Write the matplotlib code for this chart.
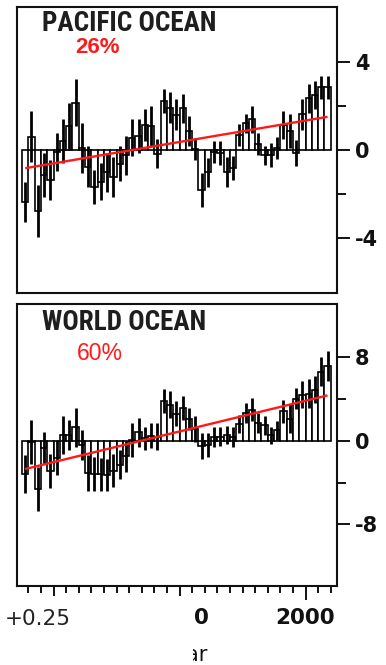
import numpy as np
import matplotlib
matplotlib.use("Agg")
import matplotlib.pyplot as plt
from matplotlib.patches import Rectangle
from matplotlib.ticker import MultipleLocator, FixedLocator
from matplotlib import font_manager

# Yearly heat-content anomalies (10^22 J), 1955-2003
years = np.arange(1955, 2004)

pacific = [-2.37, 0.60, -2.78, -1.15, -1.38, -0.10, 0.38, 1.07, 2.15, 0.08,
           -0.77, -1.69, -1.45, -1.03, -1.23, -0.64, -0.26, 0.54, 0.61, 1.12,
           1.07, -0.18, 2.22, 1.92, 1.60, 1.88, 0.84, 0.05, -1.84, -1.03,
           -0.11, -0.15, -1.00, -0.84, 0.66, 1.20, 1.38, 0.28, -0.26, -0.23,
           0.08, 1.12, 0.84, -0.15, 1.61, 2.34, 2.50, 2.84, 2.84]
pacific_err = [0.92, 1.15, 1.18, 1.00, 0.92, 0.88, 1.00, 1.07, 1.07, 1.15,
               0.92, 0.77, 0.85, 0.88, 0.92, 0.80, 0.88, 0.84, 0.77, 0.73,
               0.92, 0.65, 0.54, 0.69, 0.70, 0.65, 0.69, 0.50, 0.77, 0.65,
               0.50, 0.55, 0.69, 0.54, 0.50, 0.42, 0.61, 0.50, 0.42, 0.54,
               0.50, 0.65, 0.77, 0.61, 0.69, 0.65, 0.65, 0.54, 0.54]

world = [-3.17, -0.10, -4.63, -0.65, -2.85, -1.62, 0.58, 0.55, 1.29, -0.42,
         -3.07, -3.17, -3.20, -3.24, -2.85, -2.27, -1.50, 0.06, 0.80, 0.23,
         0.50, 0.39, 3.79, 3.46, 2.60, 3.14, 2.10, 1.13, -0.49, -0.42,
         0.39, 0.40, 0.55, 0.39, 1.62, 2.65, 2.98, 1.68, 1.50, 0.55,
         1.00, 2.82, 2.10, 4.05, 4.43, 4.53, 4.90, 6.63, 7.18]
world_err = [1.78, 2.10, 2.10, 1.54, 1.62, 1.70, 1.81, 1.46, 1.86, 1.46,
             1.70, 1.62, 1.60, 1.54, 1.60, 1.38, 1.46, 1.62, 1.38, 1.13,
             1.20, 1.30, 1.13, 1.30, 1.20, 1.13, 1.05, 1.21, 1.21, 1.13,
             0.97, 0.90, 0.90, 0.97, 0.89, 0.97, 1.13, 0.97, 0.90, 0.81,
             0.90, 1.13, 1.38, 1.05, 1.29, 1.38, 1.30, 1.38, 1.46]

# Linear trend end points (value at first and last year)
pacific_trend = [-0.84, 1.50]
world_trend = [-2.70, 4.35]

panels = [
    dict(name="PACIFIC OCEAN", pct="26%", vals=pacific, err=pacific_err,
         trend=pacific_trend, major=[-4, 0, 4], minor=[-2, 2],
         ylim=(-6.5, 6.5)),
    dict(name="WORLD OCEAN", pct="60%", vals=world, err=world_err,
         trend=world_trend, major=[-8, 0, 8], minor=[-4, 4],
         ylim=(-13.9, 13.1)),
]
xtick_years = [1960, 1980, 2000]
xtick_labels = ["", "1980", "2000"]

W, H = 386, 665
fig = plt.figure(figsize=(W / 100, H / 100), dpi=100)

def px_rect(left, top, right, bottom):
    return [left / W, 1 - bottom / H, (right - left) / W, (bottom - top) / H]

rects = [px_rect(17, 7, 337, 292.5), px_rect(17, 304, 337, 586)]
axes = []
for p, r in zip(panels, rects):
    ax = fig.add_axes(r)
    axes.append(ax)
    ax.bar(years, p["vals"], width=1.0, align="edge", facecolor="white",
           edgecolor="black", linewidth=1.2, zorder=2)
    ax.errorbar(years + 0.5, p["vals"], yerr=p["err"], fmt="none",
                ecolor="black", elinewidth=2.0, capsize=0, zorder=3)
    ax.plot([years[0] + 0.5, years[-1] + 0.5], p["trend"], color="#ff1a1a",
            lw=1.7, zorder=4, solid_capstyle="butt")
    ax.set_xlim(1954.2, 2005.0)
    ax.set_ylim(*p["ylim"])
    for s in ax.spines.values():
        s.set_linewidth(1.5)
        s.set_color("#111111")
    ax.yaxis.tick_right()
    ax.set_yticks(p["major"])
    ax.set_yticklabels([str(v) for v in p["major"]], fontweight="bold",
                       fontsize=15, family="DejaVu Sans")
    ax.yaxis.set_minor_locator(FixedLocator(p["minor"]))
    ax.tick_params(axis="y", which="major", length=9.5, width=1.4,
                   direction="out", pad=3.5, colors="#111111")
    ax.tick_params(axis="y", which="minor", length=6.5, width=1.4,
                   direction="out", colors="#111111")

axes[0].set_xticks([])
axes[0].tick_params(axis="x", which="both", bottom=False, labelbottom=False)

ax = axes[1]
ax.set_xticks(xtick_years)
ax.set_xticklabels(xtick_labels, fontweight="bold",
                   fontsize=15.5, family="DejaVu Sans")
ax.xaxis.set_minor_locator(MultipleLocator(2))
ax.tick_params(axis="x", which="major", length=10, width=1.4, direction="out",
               pad=6, colors="#111111")
ax.tick_params(axis="x", which="minor", length=5, width=1.4, direction="out",
               colors="#111111")

# Panel titles: a narrow bold face if one is installed
names = {f.name for f in font_manager.fontManager.ttflist}
narrow = None
for cand in ["Liberation Sans Narrow", "DejaVu Sans Condensed", "Roboto Condensed",
             "Open Sans Condensed"]:
    if cand in names:
        narrow = cand
        break
if narrow is None:
    title_kw = dict(family=["Roboto", "DejaVu Sans"], fontsize=19.5)
else:
    title_kw = dict(family=[narrow, "DejaVu Sans"], fontsize=19.5)

fig.text(42 / W, 1 - 31 / H, "PACIFIC OCEAN", fontweight="bold",
         color="#1e1e1e", va="baseline", **title_kw)
fig.text(75 / W, 1 - 53 / H, "26%", fontsize=16, fontweight="bold",
         family=["Liberation Sans", "DejaVu Sans"], color="#ff1a1a",
         va="baseline")
fig.text(42 / W, 1 - 330 / H, "WORLD OCEAN", fontweight="bold",
         color="#1e1e1e", va="baseline", **title_kw)
fig.text(77 / W, 1 - 360 / H, "60%", fontsize=16.5,
         family=["Liberation Sans", "DejaVu Sans"], color="#ff1a1a",
         va="baseline")

# Axis label
fig.text(207 / W, 1 - 661 / H, "Year", fontsize=15, family="DejaVu Sans",
         color="#111111", ha="right", va="baseline")

# Blank strip under the lower-left part of the axis
fig.patches.append(Rectangle((0, 0), 193 / W, 1 - 596 / H,
                             transform=fig.transFigure, facecolor="white",
                             edgecolor="none", zorder=5))
fig.text(5 / W, 1 - 625 / H, "+0.25", fontsize=15.5, family="DejaVu Sans",
         color="#222222", va="baseline", zorder=6)

fig.savefig("out.png", dpi=100)
